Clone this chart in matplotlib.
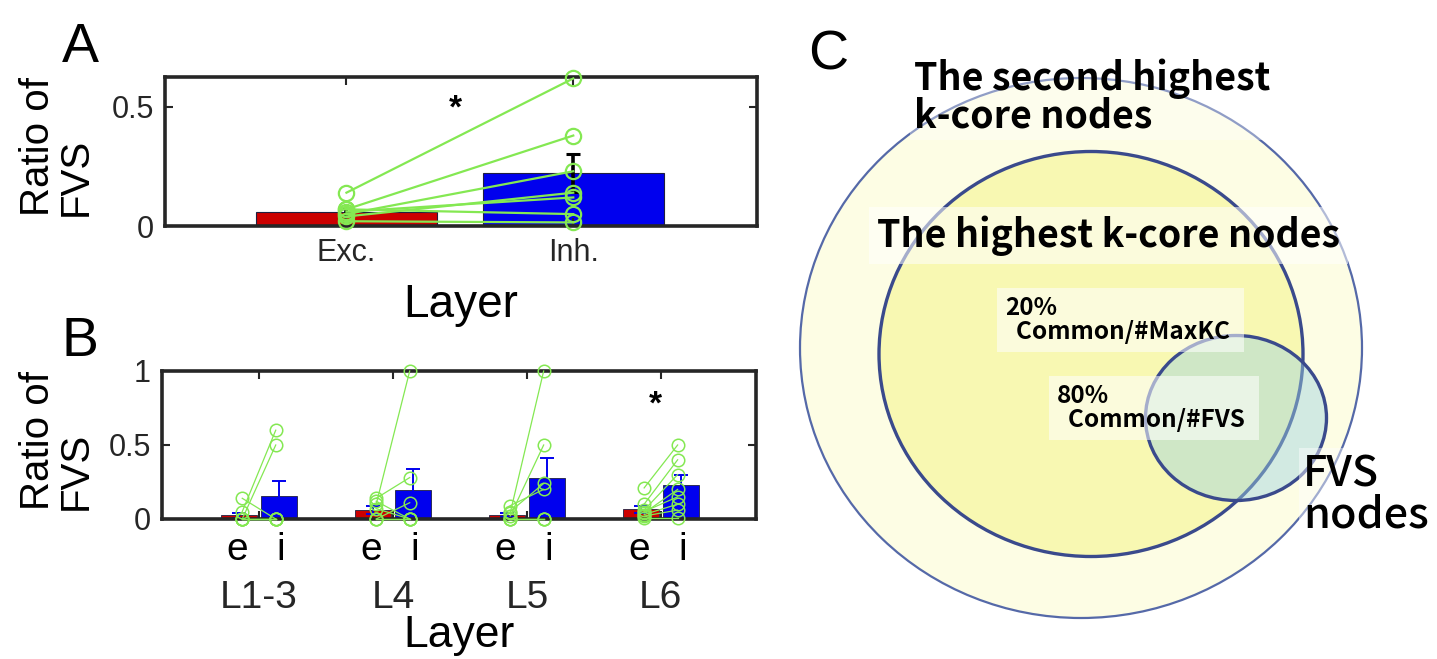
import matplotlib
matplotlib.use('Agg')
import matplotlib.pyplot as plt
from matplotlib.patches import Ellipse
import numpy as np

# ---------------- data ----------------
# Panel A
a_categories = ['Exc.', 'Inh.']
a_means = [0.06, 0.223]
a_sem = [0.015, 0.08]
a_exc_pts = [0.14, 0.07, 0.05, 0.04, 0.06, 0.07, 0.02]
a_inh_pts = [0.62, 0.38, 0.23, 0.14, 0.12, 0.05, 0.015]

# Panel B
b_layers = ['L1-3', 'L4', 'L5', 'L6']
b_sub = ['e', 'i']
b_exc_means = [0.025, 0.061, 0.027, 0.065]
b_inh_means = [0.153, 0.196, 0.275, 0.23]
b_exc_sem = [0.018, 0.025, 0.011, 0.025]
b_inh_sem = [0.102, 0.14, 0.14, 0.066]
b_exc_pts = [[0.05, 0.0, 0.14, 0.0, 0.0, 0.0, 0.0],
             [0.10, 0.14, 0.0, 0.12, 0.07, 0.0, 0.0],
             [0.04, 0.02, 0.05, 0.09, 0.0, 0.0, 0.0],
             [0.21, 0.10, 0.06, 0.04, 0.05, 0.03, 0.02, 0.01]]
b_inh_pts = [[0.60, 0.50, 0.0, 0.0, 0.0, 0.0, 0.0],
             [1.0, 0.28, 0.11, 0.0, 0.0, 0.0, 0.0],
             [1.0, 0.50, 0.24, 0.20, 0.0, 0.0, 0.0],
             [0.50, 0.40, 0.30, 0.20, 0.15, 0.10, 0.06, 0.01]]

# Panel C texts
c_outer_label = 'The second highest\nk-core nodes'
c_inner_label = 'The highest k-core nodes'
c_fvs_label = 'FVS\nnodes'
c_pct_maxkc = '20%'
c_pct_fvs = '80%'

# ---------------- style ----------------
W, H = 1437, 659
fig = plt.figure(figsize=(W / 100, H / 100), dpi=100)
FONT = ['Liberation Sans Narrow', 'Liberation Sans', 'DejaVu Sans']
CJK = ['Noto Sans CJK JP', 'DejaVu Sans']
plt.rcParams['font.family'] = FONT
DARK = '#262626'
RED = '#cc0000'
BLUE = '#0000ee'
GREEN = '#84e852'


def fig_axes(left, top, right, bottom):
    return fig.add_axes([left / W, 1 - bottom / H, (right - left) / W, (bottom - top) / H])


def style_axes(ax):
    for s in ax.spines.values():
        s.set_linewidth(2.6)
        s.set_color(DARK)
    ax.tick_params(direction='in', length=6, width=1.5, top=True, right=True,
                   labelsize=22, colors=DARK, pad=8)
    ax.tick_params(axis='x', labelbottom=False)


# ---------------- Panel C (diagram) ----------------
axc = fig.add_axes([780 / W, 0, (W - 780) / W, 1])
axc.set_xlim(780, W)
axc.set_ylim(H, 0)
axc.axis('off')
axc.add_patch(Ellipse((1081, 348), 562, 540, facecolor='#fdfde4', edgecolor='#5569a8', lw=1.6, zorder=1))
axc.add_patch(Ellipse((1091, 354), 424, 405, facecolor='#f8f8b2', edgecolor='#3a4a8c', lw=2.4, zorder=2))
axc.add_patch(Ellipse((1236, 418), 181, 165, facecolor='#9fd3e0', alpha=0.45, edgecolor='none', zorder=3))
axc.add_patch(Ellipse((1236, 418), 181, 165, facecolor='none', edgecolor='#3a4a8c', lw=2.4, zorder=4))

axc.text(914, 128, c_outer_label, family=CJK, fontsize=27, fontweight='bold', ha='left',
         va='baseline', linespacing=0.95, zorder=6,
         bbox=dict(facecolor='white', alpha=0.35, edgecolor='none', pad=3))
axc.text(877, 247, c_inner_label, family=CJK, fontsize=27, fontweight='bold', ha='left',
         va='baseline', zorder=6, bbox=dict(facecolor='white', alpha=0.55, edgecolor='none', pad=6))
axc.text(1005, 296, '%s\n  Common/#MaxKC ' % c_pct_maxkc, family=CJK, fontsize=17.5, fontweight='bold',
         ha='left', va='top', linespacing=1.0, zorder=6,
         bbox=dict(facecolor='white', alpha=0.55, edgecolor='none', pad=6))
axc.text(1057, 384, '%s\n  Common/#FVS ' % c_pct_fvs, family=CJK, fontsize=17.5, fontweight='bold',
         ha='left', va='top', linespacing=1.0, zorder=6,
         bbox=dict(facecolor='white', alpha=0.55, edgecolor='none', pad=6))
axc.text(1303, 528, c_fvs_label, family=CJK, fontsize=31, fontweight='medium', ha='left',
         va='baseline', linespacing=0.95, zorder=6,
         bbox=dict(facecolor='white', alpha=0.45, edgecolor='none', pad=3))

# ---------------- Panel A ----------------
axA = fig_axes(165, 77, 757, 226)
xa = np.arange(1, len(a_categories) + 1)
axA.bar(xa, a_means, width=0.8, color=[RED, BLUE], edgecolor='#202040', lw=0.8, zorder=1)
axA.errorbar(xa, a_means, yerr=a_sem, fmt='none', ecolor='black', elinewidth=2.6,
             capsize=5, capthick=2.2, zorder=2)
for e, i in zip(a_exc_pts, a_inh_pts):
    axA.plot([xa[0], xa[1]], [e, i], '-o', color=GREEN, lw=1.6, ms=11, mfc='none',
             mec=GREEN, mew=1.6, zorder=3, clip_on=False)
axA.set_xlim(0.2, 2.81)
axA.set_ylim(0, 0.626)
axA.set_yticks([0, 0.5])
axA.set_yticklabels(['0', '0.5'])
axA.set_xticks(xa)
style_axes(axA)
tA = axA.get_xaxis_transform()
for x, lab in zip(xa, a_categories):
    axA.text(x, -0.18, lab, transform=tA, ha='center', va='center', fontsize=22, color=DARK)
axA.text(0.5, -0.53, 'Layer', transform=axA.transAxes, ha='center', va='center',
         fontsize=33, color='black')
axA.text(1.48, 0.49, '*', ha='center', va='center', fontsize=24, fontweight='bold', color='black')

# ---------------- Panel B ----------------
axB = fig_axes(162, 371, 756, 519)
xb = np.arange(1, len(b_layers) + 1)
axB.bar(xb - 0.15, b_exc_means, width=0.27, color=RED, edgecolor='#202040', lw=0.6, zorder=1)
axB.bar(xb + 0.15, b_inh_means, width=0.27, color=BLUE, edgecolor='#202040', lw=0.6, zorder=1)
axB.errorbar(xb - 0.15, b_exc_means, yerr=b_exc_sem, fmt='none', ecolor=BLUE, elinewidth=1.4,
             capsize=5, capthick=1.4, zorder=2)
axB.errorbar(xb + 0.15, b_inh_means, yerr=b_inh_sem, fmt='none', ecolor=BLUE, elinewidth=1.4,
             capsize=5, capthick=1.4, zorder=2)
for g, (ep, ip) in enumerate(zip(b_exc_pts, b_inh_pts)):
    for e, i in zip(ep, ip):
        axB.plot([xb[g] - 0.125, xb[g] + 0.125], [e, i], '-o', color=GREEN, lw=0.9, ms=9,
                 mfc='none', mec=GREEN, mew=1.1, zorder=3, clip_on=False)
axB.set_xlim(0.276, 4.71)
axB.set_ylim(0, 1)
axB.set_yticks([0, 0.5, 1])
axB.set_yticklabels(['0', '0.5', '1'])
axB.set_xticks(xb)
style_axes(axB)
tB = axB.get_xaxis_transform()
for x, lab in zip(xb, b_layers):
    axB.text(x - 0.16, -0.21, b_sub[0], transform=tB, ha='center', va='center', fontsize=28, color='black')
    axB.text(x + 0.16, -0.21, b_sub[1], transform=tB, ha='center', va='center', fontsize=28, color='black')
    axB.text(x, -0.535, lab, transform=tB, ha='center', va='center', fontsize=28, color=DARK)
axB.text(0.5, -0.79, 'Layer', transform=axB.transAxes, ha='center', va='center',
         fontsize=32, color='black')
axB.text(3.96, 0.77, '*', ha='center', va='center', fontsize=24, fontweight='bold', color='black')

# ---------------- labels ----------------
for yc in (146, 440):
    fig.text(57 / W, 1 - yc / H, 'Ratio of\nFVS', rotation=90, ha='center', va='center',
             multialignment='left', fontsize=29, linespacing=1.0, color='black')
fig.text(62 / W, 1 - 62 / H, 'A', fontsize=40, ha='left', va='baseline')
fig.text(62 / W, 1 - 356 / H, 'B', fontsize=40, ha='left', va='baseline')
fig.text(808 / W, 1 - 70 / H, 'C', fontsize=40, ha='left', va='baseline', family=['Liberation Sans'])

fig.savefig('out.png', dpi=100)
